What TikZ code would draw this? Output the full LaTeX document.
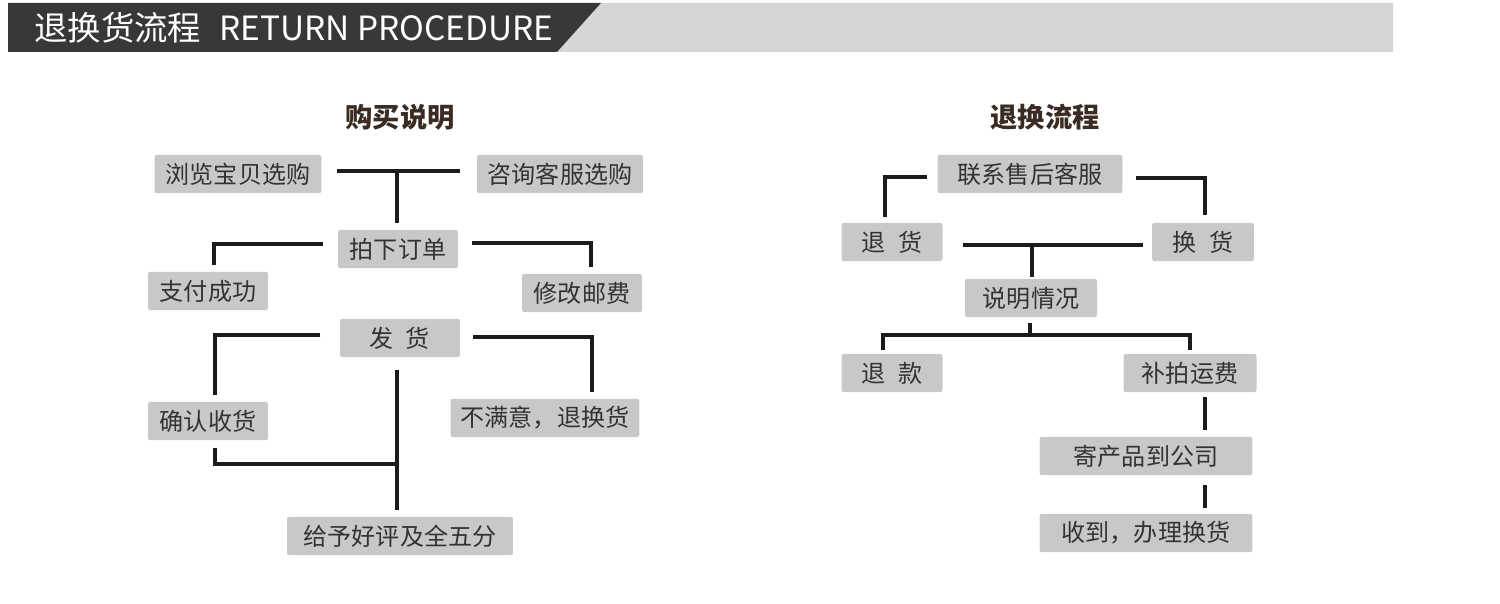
\documentclass[tikz,border=0pt]{standalone}
\usepackage{fontspec}
\setmainfont{Noto Sans CJK SC}
\newfontfamily\cjk{Noto Sans CJK SC}
\usetikzlibrary{calc}
\definecolor{darkbar}{HTML}{383838}
\definecolor{lightbar}{HTML}{D6D6D6}
\definecolor{boxfill}{HTML}{C8C8C8}
\definecolor{boxtext}{HTML}{333333}
\definecolor{titletext}{HTML}{3A2C22}
\definecolor{linecol}{HTML}{1C1C1C}
\tikzset{
  px/.style={x=0.02cm,y=-0.02cm},
  stepbox/.style={fill=boxfill,rounded corners=1.5pt,inner sep=0pt,minimum height=0.77cm,
    text=boxtext,font=\cjk\fontsize{13.7pt}{15pt}\selectfont},
  conn/.style={draw=linecol,line width=2.2pt},
  sectitle/.style={text=titletext,font=\cjk\bfseries\fontsize{15.5pt}{17pt}\selectfont},
}
\begin{document}
\begin{tikzpicture}[px]
\useasboundingbox (0,0) rectangle (1500,604);
% header
\fill[lightbar] (601,3) -- (1393,3) -- (1393,52) -- (557,52) -- cycle;
\fill[darkbar] (8,3) -- (601,3) -- (557,52) -- (8,52) -- cycle;
\node[anchor=west,text=white,font=\cjk\fontsize{19pt}{21pt}\selectfont,inner sep=0pt] (hdr) at (34,28) {退换货流程\hspace{0.55em}RETURN PROCEDURE};

% left diagram
\node[sectitle] (t1) at (400,117) {购买说明};
\node[stepbox,minimum width=3.34cm] (browse) at (238,174) {浏览宝贝选购};
\node[stepbox,minimum width=3.32cm] (consult) at (560,174) {咨询客服选购};
\node[stepbox,minimum width=2.4cm] (order) at (398,249) {拍下订单};
\node[stepbox,minimum width=2.4cm] (pay) at (208,291) {支付成功};
\node[stepbox,minimum width=2.4cm] (post) at (582,293) {修改邮费};
\node[stepbox,minimum width=2.4cm] (ship) at (400,338) {发\hspace{0.5em}货};
\node[stepbox,minimum width=2.4cm] (confirm) at (208,421) {确认收货};
\node[stepbox,minimum width=3.78cm] (unhappy) at (545,418) {不满意，退换货};
\node[stepbox,minimum width=4.52cm] (praise) at (400,536) {给予好评及全五分};

\coordinate (a1) at (337,171); \coordinate (a2) at (460,171);
\coordinate (a3) at (397,171); \coordinate (a4) at (397,223);
\draw[conn] (a1) -- (a2);
\draw[conn] (a3) -- (a4);
\coordinate (b1) at (323,244); \coordinate (b2) at (214,265);
\draw[conn] (b1) -| (b2);
\coordinate (c1) at (472,243); \coordinate (c2) at (591,267);
\draw[conn] (c1) -| (c2);
\coordinate (d1) at (320,335); \coordinate (d2) at (215,395);
\draw[conn] (d1) -| (d2);
\coordinate (e1) at (473,337); \coordinate (e2) at (592,392);
\draw[conn] (e1) -| (e2);
\coordinate (f1) at (397,370); \coordinate (f2) at (397,510);
\draw[conn] (f1) -- (f2);
\coordinate (g1) at (215,448); \coordinate (g2) at (397,464);
\draw[conn] (g1) |- (g2);

% right diagram
\node[sectitle] (t2) at (1045,117) {退换流程};
\node[stepbox,minimum width=3.7cm] (contact) at (1030,174) {联系售后客服};
\node[stepbox,minimum width=2.02cm] (ret) at (892,242) {退\hspace{0.5em}货};
\node[stepbox,minimum width=2.04cm] (exch) at (1203,242) {换\hspace{0.5em}货};
\node[stepbox,minimum width=2.64cm] (explain) at (1031,298) {说明情况};
\node[stepbox,minimum width=2.02cm] (refund) at (892,373) {退\hspace{0.5em}款};
\node[stepbox,minimum width=2.66cm] (fee) at (1190,373) {补拍运费};
\node[stepbox,minimum width=4.26cm] (send) at (1146,456) {寄产品到公司};
\node[stepbox,minimum width=4.26cm] (recv) at (1146,533) {收到，办理换货};

\coordinate (h1) at (927,177); \coordinate (h2) at (885,217);
\draw[conn] (h1) -| (h2);
\coordinate (i1) at (1136,178); \coordinate (i2) at (1205,215);
\draw[conn] (i1) -| (i2);
\coordinate (j1) at (963,245); \coordinate (j2) at (1143,245);
\draw[conn] (j1) -- (j2);
\coordinate (j3) at (1032,245); \coordinate (j4) at (1032,277);
\draw[conn] (j3) -- (j4);
\coordinate (k1) at (1030,323); \coordinate (k2) at (1030,335);
\draw[conn] (k1) -- (k2);
\coordinate (k3) at (883,350); \coordinate (k4) at (1190,350);
\draw[conn] (k3) |- (k2) -| (k4);
\coordinate (m1) at (1205,397); \coordinate (m2) at (1205,430);
\draw[conn] (m1) -- (m2);
\coordinate (n1) at (1205,485); \coordinate (n2) at (1205,508);
\draw[conn] (n1) -- (n2);
\end{tikzpicture}
\end{document}
